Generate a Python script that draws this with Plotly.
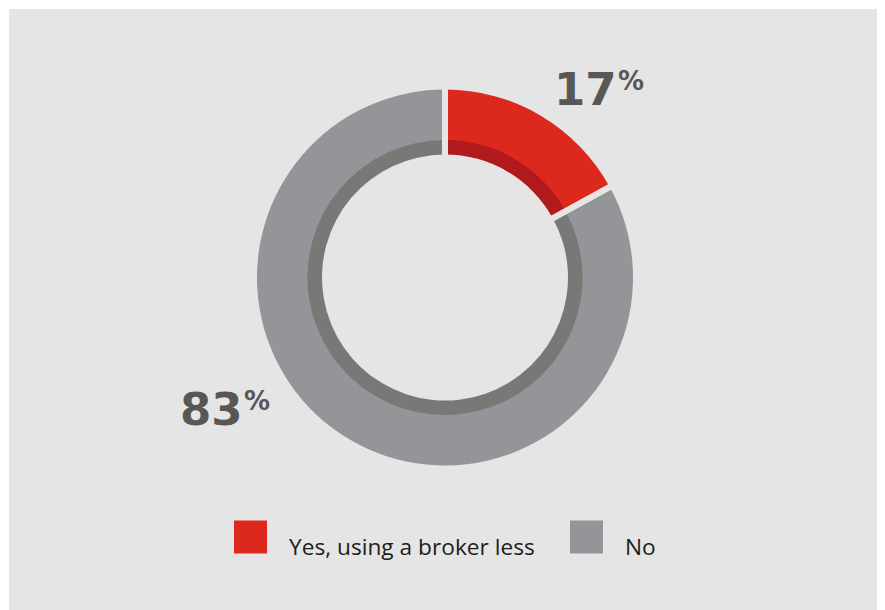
import plotly.graph_objects as go

# ---- data ----
categories = ["Yes, using a broker less", "No"]
values = [17, 83]
pct_labels = ["17", "83"]

# ---- styles ----
OFF = 8  # page body margin of the browser
W, H = 885 - OFF, 610 - OFF
BG = "#e5e5e5"
outer_colors = ["#dd281d", "#939598"]
inner_colors = ["#b01a1c", "#7a7877"]
text_dark = "#575756"

cx, cy = 445 - OFF, 277.5 - OFF
R_out, R_mid, R_in, R_gap = 188, 137.5, 123, 196


def X(px):
    return (px - OFF) / W


def Y(py):
    return 1 - (py - OFF) / H


def dom(r):
    return dict(x=[(cx - r) / W, (cx + r) / W], y=[1 - (cy + r) / H, 1 - (cy - r) / H])


fig = go.Figure()
common = dict(labels=categories, values=values, sort=False, direction="clockwise",
              rotation=0, textinfo="none", showlegend=False, hoverinfo="label+percent")
fig.add_trace(go.Pie(**common, domain=dom(R_out), hole=(R_mid - 2.5) / R_out,
                     marker=dict(colors=outer_colors, line=dict(width=0))))
fig.add_trace(go.Pie(**common, domain=dom(R_mid), hole=R_in / R_mid,
                     marker=dict(colors=inner_colors, line=dict(width=0))))
# separators between slices (transparent full pie with background-coloured edges)
fig.add_trace(go.Pie(**common, domain=dom(R_gap), hole=0,
                     marker=dict(colors=["rgba(0,0,0,0)"] * len(values), line=dict(width=6, color=BG))))

shapes = [dict(type="rect", xref="paper", yref="paper", x0=X(9), x1=X(880), y0=0, y1=Y(9),
               fillcolor=BG, line=dict(width=0), layer="below")]
annotations = []

# percentage labels
pct_pos = [(619, 89), (245, 409)]
for lab, (px, py) in zip(pct_labels, pct_pos):
    annotations.append(dict(x=X(px), y=Y(py), xref="paper", yref="paper", text=f"<b>{lab}</b>",
                            xanchor="right", yanchor="middle", showarrow=False,
                            font=dict(family="DejaVu Sans", size=45, color=text_dark)))
    annotations.append(dict(x=X(px - 3), y=Y(py - 8), xref="paper", yref="paper", text="<b>%</b>",
                            xanchor="left", yanchor="middle", showarrow=False,
                            font=dict(family="DejaVu Sans", size=26, color=text_dark)))

# legend
leg_x = [234, 570]
leg_y = 537
sq = 33
for c, lab, lx in zip(outer_colors, categories, leg_x):
    shapes.append(dict(type="rect", xref="paper", yref="paper", x0=X(lx), x1=X(lx + sq),
                       y0=Y(leg_y + sq / 2), y1=Y(leg_y - sq / 2),
                       fillcolor=c, line=dict(width=0)))
    annotations.append(dict(x=X(lx + sq + 20), y=Y(leg_y + 9), xref="paper", yref="paper",
                            text=lab, xanchor="left", yanchor="middle", showarrow=False,
                            font=dict(family="Open Sans", size=22.7, color="#1d1d1b")))

fig.update_layout(width=W, height=H, margin=dict(l=0, r=0, t=0, b=0),
                  paper_bgcolor="white", plot_bgcolor="white",
                  shapes=shapes, annotations=annotations, showlegend=False)
fig.write_html("out.html")
